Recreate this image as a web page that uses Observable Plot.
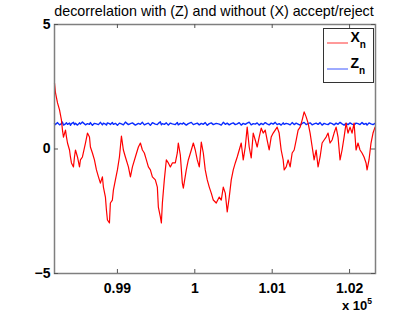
<!DOCTYPE html>
<html><head><meta charset="utf-8">
<script src="https://cdn.jsdelivr.net/npm/d3@7"></script>
<script src="https://cdn.jsdelivr.net/npm/@observablehq/plot@0.6"></script>
<style>body{margin:0;background:#fff}svg{display:block}</style>
</head><body><div id="chart"></div>
<script>
const titleText = "decorrelation with (Z) and without (X) accept/reject";
const xTicks = [99000, 100000, 101000, 102000];
const xTickLabels = ["0.99", "1", "1.01", "1.02"];
const yTicks = [-5, 0, 5];
const yTickLabels = ["\u22125", "0", "5"];
const seriesNames = ["X", "Z"];
const seriesSub = "n";
const seriesColors = ["#ff0000", "#0a2cff"];
const xExponent = "5";

// iteration index n
const nIdx = [
98187,98200,98226,98252,98277,98290,98303,98329,98342,98355,98381,98393,
98406,98432,98445,98458,98484,98510,98522,98548,98587,98613,98639,98651,
98677,98703,98729,98755,98780,98806,98819,98845,98858,98871,98897,98909,
98935,98948,98974,99000,99026,99052,99077,99103,99142,99168,99194,99232,
99271,99297,99323,99348,99374,99400,99426,99452,99490,99516,99529,99555,
99568,99581,99606,99632,99658,99684,99710,99748,99774,99787,99813,99839,
99852,99890,99916,99955,99981,100006,100032,100058,100084,100110,100135,100161,
100187,100213,100239,100277,100316,100342,100368,100394,100419,100445,100471,100497,
100523,100548,100574,100600,100626,100652,100677,100703,100729,100755,100781,100806,
100832,100858,100884,100910,100935,100961,100987,101013,101039,101064,101090,101116,
101142,101155,101181,101206,101232,101258,101284,101310,101335,101361,101387,101413,
101439,101464,101490,101516,101542,101568,101593,101619,101645,101671,101697,101722,
101748,101774,101800,101826,101851,101877,101903,101929,101955,101980,102006,102032,
102058,102084,102109,102135,102161,102187,102213,102226,102251,102277,102303,102329
];
// X_n (without accept/reject)
const xVals = [
2.65,2.25,1.85,1.57,1.16,0.76,0.48,0.76,0.48,0.24,-0.04,-0.32,
-0.56,-0.72,-0.32,-0.04,-0.32,-0.72,-0.44,-0.32,0.24,0.64,0.48,0.08,
-0.16,-0.44,-0.84,-1.12,-1.37,-1.12,-1.53,-1.93,-2.45,-2.85,-2.97,-2.17,
-2.05,-1.65,-1.24,-0.84,-0.32,0.52,-0.04,-0.32,-0.72,-1.12,-0.72,-0.32,
0.08,0.24,-0.04,-0.16,-0.44,-0.72,-0.84,-1.12,-1.24,-1.53,-2.33,-2.73,
-2.97,-2.17,-1.24,-0.44,-0.56,-0.72,-0.56,-0.56,-0.16,0.24,-0.24,-1.37,
-1.57,-0.84,-0.44,-0.04,0.24,-0.04,-0.44,-0.72,0.28,-0.16,-0.84,-1.24,
-1.53,-1.77,-2.05,-2.17,-1.93,-2.05,-1.53,-1.77,-2.53,-1.93,-1.24,-0.84,
-0.56,-0.32,-0.04,0.24,-0.44,0.08,0.88,0.08,-0.36,0.64,0.36,0.08,
0.48,0.84,0.64,0.76,0.36,-0.04,0.48,0.64,0.76,0.88,0.64,-0.04,
-0.44,-0.84,-0.72,-0.44,-0.72,-0.16,-0.04,0.36,0.76,0.88,1.16,1.49,
1.29,1.04,0.64,0.1,-0.44,-0.04,-0.72,-0.32,0.24,0.36,0.48,0.64,
0.24,0.36,0.64,0.88,0.48,-0.44,-0.04,0.48,1.04,0.64,0.88,0.64,
1.04,-0.04,0.24,-0.04,-0.16,-0.32,-0.56,-0.84,-0.44,0.24,0.64,0.88
];
// Z_n (with accept/reject)
const zVals = [
1.03,0.98,1.06,0.97,1.02,1.08,0.96,1.01,1.05,0.99,1.04,0.95,
1.02,1.07,0.98,1.03,0.96,1.05,1.00,1.08,0.97,1.02,0.99,1.06,
0.95,1.03,1.01,0.98,1.07,0.97,1.04,1.00,0.96,1.05,1.02,0.98,
1.06,0.99,1.03,0.95,1.04,1.01,0.97,1.08,0.98,1.02,1.05,0.96,
1.03,0.99,1.07,0.97,1.01,1.04,0.95,1.06,1.00,0.98,1.03,1.09,
0.97,1.02,0.99,1.05,0.96,1.04,1.01,0.98,1.06,0.97,1.03,1.00,
1.05,0.96,1.02,1.07,0.98,1.01,1.04,0.97,1.03,0.99,1.06,0.95,
1.02,1.05,0.98,1.03,1.00,0.96,1.07,0.99,1.04,0.97,1.02,1.05,
0.98,1.01,1.06,0.96,1.03,0.99,1.04,1.08,0.97,1.02,1.00,1.05,
0.96,1.03,0.98,1.06,1.01,0.97,1.04,1.00,1.07,0.98,1.02,0.96,
1.05,0.99,1.03,1.01,0.97,1.06,0.98,1.04,1.00,0.96,1.03,1.07,
0.98,1.02,1.05,0.97,1.01,1.04,0.99,1.06,0.96,1.03,1.00,0.98,
1.05,1.02,0.97,1.04,0.99,1.07,1.01,0.96,1.03,0.98,1.05,1.00,
0.97,1.04,1.02,0.98,1.06,0.99,1.03,0.96,1.05,1.01,0.98,1.03
];

const W = 415, H = 312, mL = 54, mR = 40, mT = 24, mB = 39;
const innerW = W - mL - mR, innerH = H - mT - mB, tickLen = 4;
const font = "'Liberation Sans', Arial, Helvetica, sans-serif";
const len = Math.min(nIdx.length, xVals.length, zVals.length);
const rows = nIdx.slice(0, len).map((n, i) => ({n, x: xVals[i], z: zVals[i]}));

const plot = Plot.plot({
  width: W, height: H,
  marginLeft: mL, marginRight: mR, marginTop: mT, marginBottom: mB,
  x: {domain: [98187, 102335], label: null},
  y: {domain: [-5, 5], label: null},
  style: {fontFamily: font, background: "white", color: "black"},
  marks: [
    Plot.lineY(rows, {x: "n", y: "z", stroke: seriesColors[1], strokeWidth: 1.4}),
    Plot.lineY(rows, {x: "n", y: "x", stroke: seriesColors[0], strokeWidth: 1.2}),
    Plot.frame({stroke: "#7f7f7f", strokeWidth: 1.5}),
    Plot.tickX(xTicks, {x: d => d, insetTop: innerH - tickLen, stroke: "#555"}),
    Plot.tickX(xTicks, {x: d => d, insetBottom: innerH - tickLen, stroke: "#555"}),
    Plot.tickY(yTicks, {y: d => d, insetRight: innerW - tickLen, stroke: "#555"}),
    Plot.tickY(yTicks, {y: d => d, insetLeft: innerW - tickLen, stroke: "#555"}),
    Plot.axisX({ticks: xTicks, tickSize: 0, tickPadding: 10, label: null,
      tickFormat: d => xTickLabels[xTicks.indexOf(d)], fontSize: 14, fontWeight: "bold"}),
    Plot.axisY({ticks: yTicks, tickSize: 0, tickPadding: 4, label: null,
      tickFormat: d => yTickLabels[yTicks.indexOf(d)], fontSize: 14, fontWeight: "bold"})
  ]
});
document.getElementById("chart").appendChild(plot);

const svg = d3.select(plot);
// title
svg.append("text").attr("x", 214).attr("y", 15.5).attr("text-anchor", "middle")
  .attr("font-family", font).attr("font-size", 14.3).attr("fill", "black").text(titleText);
// exponent label
const ex = svg.append("text").attr("x", 342).attr("y", 309.5).attr("text-anchor", "start")
  .attr("font-family", font).attr("font-size", 13).attr("font-weight", "bold").attr("fill", "black");
ex.append("tspan").text("x 10");
ex.append("tspan").attr("dy", -6).attr("font-size", 8.5).text(xExponent);
// legend
const lg = svg.append("g");
lg.append("rect").attr("x", 323.5).attr("y", 28.5).attr("width", 50).attr("height", 54)
  .attr("fill", "white").attr("stroke", "#333").attr("stroke-width", 1);
const legY = [43, 69];
seriesNames.forEach((name, i) => {
  lg.append("line").attr("x1", 327).attr("x2", 348).attr("y1", legY[i]).attr("y2", legY[i])
    .attr("stroke", seriesColors[i]).attr("stroke-width", 0.8);
  const t = lg.append("text").attr("x", 350.5).attr("y", legY[i] - 1).attr("text-anchor", "start")
    .attr("font-family", font).attr("font-size", 14).attr("font-weight", "bold").attr("fill", "black");
  t.append("tspan").text(name);
  t.append("tspan").attr("dy", 6).attr("font-size", 10).text(seriesSub);
});
</script></body></html>
